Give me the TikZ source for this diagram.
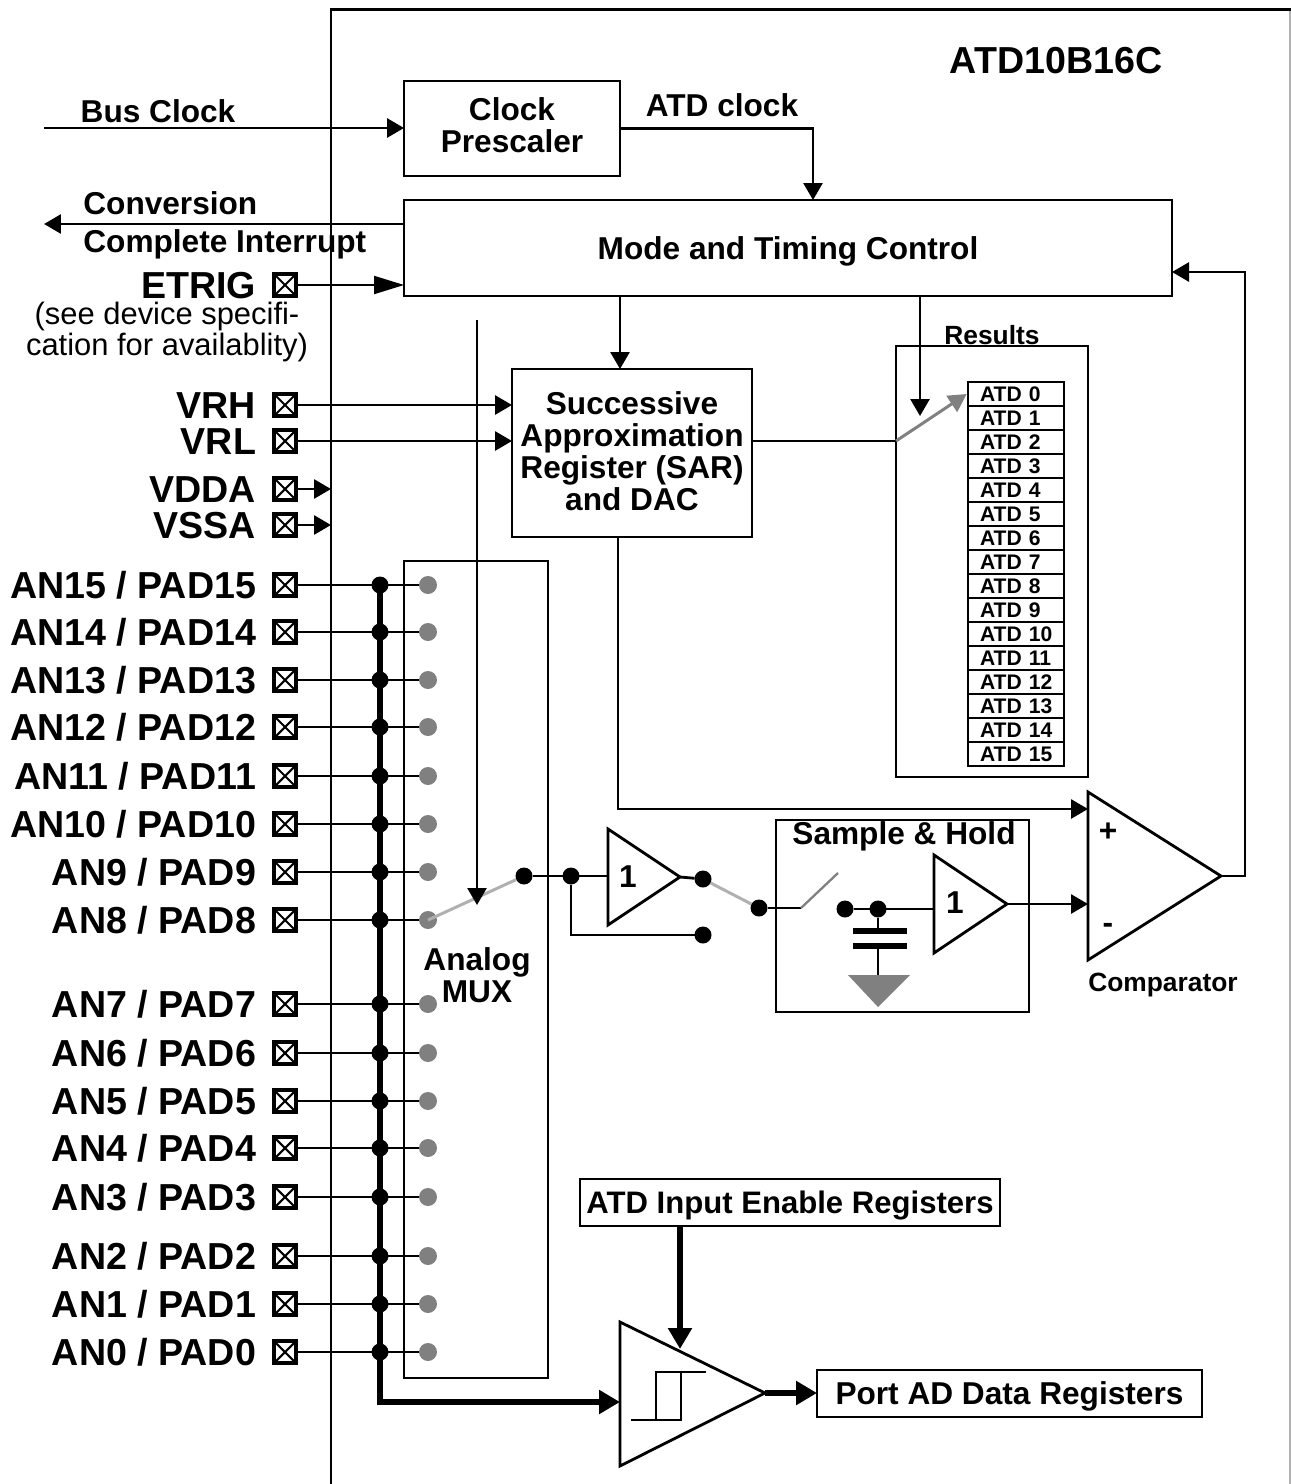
\documentclass[tikz,border=0pt]{standalone}
\usepackage{fontspec}
\setmainfont{Liberation Sans}
\usetikzlibrary{arrows.meta, positioning, calc}
\definecolor{muxGray}{RGB}{128,128,128}
\definecolor{switchGray}{RGB}{176,176,176}
\tikzset{
    blockbox/.style={
        rectangle,
        draw,
        line width=1.6pt,
        align=center,
        inner sep=0pt,
        outer sep=0pt,
        font=\fontsize{18}{18.2}\selectfont\bfseries
    },
    capline/.style={text height=13pt, text depth=0pt},
    textlabel/.style={inner sep=0pt, align=left, font=\fontsize{18}{18.2}\selectfont\bfseries},
    smalllabel/.style={inner sep=0pt, text height=10.8pt, text depth=0pt, font=\fontsize{15}{15}\selectfont\bfseries},
    pinlabel/.style={inner sep=0pt, outer sep=0pt, text height=15.3pt, text depth=0pt, font=\fontsize{21.4}{21.4}\selectfont\bfseries},
    regbox/.style={
        rectangle,
        draw,
        line width=1.5pt,
        align=left,
        inner xsep=0.18cm,
        inner ysep=0pt,
        text width=1.56cm,
        minimum height=0.48cm,
        text height=8.6pt,
        text depth=0pt,
        font=\fontsize{12}{12}\selectfont\bfseries
    },
    pinbox/.style={
        rectangle,
        draw,
        line width=1.8pt,
        inner sep=0pt,
        outer sep=0pt,
        minimum size=0.44cm,
        path picture={
            \draw[line width=1.2pt] (path picture bounding box.north west) -- (path picture bounding box.south east);
            \draw[line width=1.2pt] (path picture bounding box.south west) -- (path picture bounding box.north east);
        }
    },
    dotnode/.style={circle, fill=black, inner sep=0pt, outer sep=0pt, minimum size=0.34cm},
    muxdot/.style={circle, fill=muxGray, inner sep=0pt, outer sep=0pt, minimum size=0.36cm},
    wire/.style={line width=1.6pt},
    thinwire/.style={line width=1.2pt},
    graywire/.style={line width=1.7pt, draw=switchGray},
    flowarrow/.style={-{Triangle[length=0.34cm, width=0.38cm]}, line width=1.6pt},
    longarrow/.style={-{Triangle[length=0.6cm, width=0.36cm]}, line width=1.1pt},
    heavyarrow/.style={-{Triangle[length=0.42cm, width=0.46cm]}, line width=3.3pt},
    amp/.style={line width=1.6pt}
}
\begin{document}
\begin{tikzpicture}[x=0.02cm, y=-0.02cm]
    \useasboundingbox (0,0) rectangle (1291,1484);
    \coordinate (framebl) at (331,1484);
    \coordinate (frametr) at (1291,9.5);
    \coordinate (framebr) at (1290,1484);
    \draw[line width=1.7pt] (framebl) |- (frametr);
    \draw[line width=0.6pt, draw=switchGray] (1290,11) -- (framebr);

    \node[inner sep=0pt, font=\fontsize{21.4}{21.4}\selectfont\bfseries] (title) at (1056,61) {ATD10B16C};

    % control blocks
    \node[blockbox, minimum width=4.32cm, minimum height=1.9cm] (prescaler) at (512,128.5) {};
    \node[textlabel, align=center] (prescalerlabel) at (512,125) {Clock\\Prescaler};
    \node[blockbox, capline, minimum width=15.36cm, minimum height=1.92cm] (mode) at (788,248) {Mode and Timing Control};
    \node[blockbox, minimum width=4.8cm, minimum height=3.36cm] (sar) at (632,453) {};
    \node[textlabel, align=center] (sarlabel) at (632,451) {Successive\\Approximation\\Register (SAR)\\and DAC};
    \node[blockbox, minimum width=3.84cm, minimum height=8.62cm] (results) at (992,561.5) {};
    \node[smalllabel] (resultslabel) at (992,335) {Results};
    \node[blockbox, minimum width=2.88cm, minimum height=16.34cm] (mux) at (476,969.5) {};
    \node[textlabel, align=center] (muxlabel) at (477,975) {Analog\\MUX};
    \node[blockbox, minimum width=5.06cm, minimum height=3.84cm] (sah) at (902.5,916) {};
    \node[textlabel, capline] (sahlabel) at (904,833) {Sample \& Hold};
    \node[blockbox, capline, minimum width=8.4cm, minimum height=0.94cm, font=\fontsize{17.7}{18}\selectfont\bfseries] (enable) at (790,1202.5) {ATD Input Enable Registers};
    \node[blockbox, capline, minimum width=7.7cm, minimum height=0.94cm] (port) at (1009.5,1393.5) {Port AD Data Registers};

    % result registers
    \foreach \n in {0,...,15} {
        \node[regbox] (reg\n) at (1016,394+24*\n) {\hspace*{0.06cm}ATD \n};
    }

    % clock and interrupt
    \coordinate (busclk) at (44,128);
    \coordinate (irqend) at (44,224);
    \node[textlabel] (busclklabel) at (158,111) {Bus Clock};
    \node[textlabel] (atdclklabel) at (722,105) {ATD clock};
    \node[textlabel, right] (convlabel) at (83,203) {Conversion};
    \node[textlabel, capline, right] (irqlabel) at (83,241) {Complete Interrupt};
    \coordinate (modeclk) at (813,200);
    \draw[flowarrow] (busclk) -- (prescaler.west |- busclk);
    \draw[flowarrow] (prescaler.east) -| (modeclk);
    \draw[flowarrow] (mode.west |- irqend) -- (irqend);

    % supply and trigger pins
    \node[pinbox] (etrig) at (285,285) {};
    \node[pinbox] (vrh) at (285,405) {};
    \node[pinbox] (vrl) at (285,441) {};
    \node[pinbox] (vdda) at (285,489) {};
    \node[pinbox] (vssa) at (285,525) {};
    \node[pinlabel, left=0.36cm of etrig] (etriglabel) {ETRIG};
    \node[pinlabel, left=0.36cm of vrh] (vrhlabel) {VRH};
    \node[pinlabel, left=0.36cm of vrl] (vrllabel) {VRL};
    \node[pinlabel, left=0.36cm of vdda] (vddalabel) {VDDA};
    \node[pinlabel, left=0.36cm of vssa] (vssalabel) {VSSA};
    \node[inner sep=0pt, align=center, font=\fontsize{17.6}{17.6}\selectfont] (etrignote) at (167,332) {(see device specif{}i-\\cation for availablity)};
    \draw[longarrow] (etrig.east) -- (mode.west |- etrig);
    \draw[flowarrow] (vrh.east) -- (sar.west |- vrh);
    \draw[flowarrow] (vrl.east) -- (sar.west |- vrl);
    \coordinate (vddaend) at (331,489);
    \coordinate (vssaend) at (331,525);
    \draw[flowarrow] (vdda.east) -- (vddaend);
    \draw[flowarrow] (vssa.east) -- (vssaend);

    % analog channels
    \coordinate (schmittin) at (620,1402);
    \foreach \n/\ypos in {15/585,14/632,13/680,12/727,11/776,10/824,9/872,8/920,7/1004,6/1053,5/1101,4/1148,3/1197,2/1256,1/1304,0/1352} {
        \node[pinbox] (pin\n) at (285,\ypos) {};
        \node[pinlabel, left=0.36cm of pin\n] (label\n) {AN\n\ /\ PAD\n};
        \node[dotnode] (bus\n) at (380,\ypos) {};
        \coordinate (muxin\n) at (428,\ypos);
        \draw[wire] (pin\n.east) -- (muxin\n);
        \node[muxdot] (mux\n) at (muxin\n) {};
    }
    \draw[heavyarrow] (bus15.center) |- (schmittin);

    % signal path
    \node[dotnode] (muxout) at (524,876) {};
    \node[dotnode] (ampin) at (571,876) {};
    \node[dotnode] (ampout) at (703,879) {};
    \node[dotnode] (bypass) at (703,935) {};
    \node[dotnode] (sahin) at (759,908) {};
    \node[dotnode] (capleft) at (845,909) {};
    \node[dotnode] (captop) at (878,909) {};
    \coordinate (amponein) at (608,876);
    \coordinate (amponeout) at (680,877);
    \coordinate (amptwoin) at (934,909);
    \coordinate (amptwoout) at (1007,904);
    \coordinate (switchpivot) at (801,908);
    \coordinate (switchend) at (838,873);
    \draw[amp] (608,829) -- (608,925) -- (amponeout) -- cycle;
    \draw[amp] (934,855) -- (934,953) -- (amptwoout) -- cycle;
    \node[textlabel] (amponelabel) at (628,877) {1};
    \node[textlabel] (amptwolabel) at (955,903) {1};
    \draw[graywire] (mux8.center) -- (muxout);
    \draw[wire] (muxout) -- (amponein);
    \draw[wire] (amponeout) -- (ampout);
    \draw[wire] (ampin) |- (bypass);
    \draw[graywire] (ampout) -- (sahin);
    \draw[wire] (sahin) -- (switchpivot);
    \draw[line width=1.3pt, draw=muxGray] (switchpivot) -- (switchend);
    \draw[wire] (capleft) -- (amptwoin);
    \coordinate (ctrltop) at (477,320);
    \coordinate (ctrltip) at (477,905);
    \draw[flowarrow, line width=1.4pt] (ctrltop) -- (ctrltip);

    % hold capacitor
    \coordinate (plateone) at (878,931);
    \coordinate (platetwo) at (878,946);
    \coordinate (gndtop) at (878,975);
    \draw[wire] (captop) -- (plateone);
    \draw[line width=3pt] (853,931) -- (907,931);
    \draw[line width=3pt] (853,946) -- (907,946);
    \draw[wire] (platetwo) -- (gndtop);
    \fill[muxGray] (848,975) -- (910,975) -- (878,1007) -- cycle;

    % comparator
    \coordinate (compplus) at (1088,809);
    \coordinate (compminus) at (1088,904);
    \coordinate (compout) at (1221,876);
    \coordinate (comptop) at (1245,876);
    \coordinate (modefeedback) at (1172,272);
    \draw[amp] (1088,792) -- (1088,960) -- (compout) -- cycle;
    \node[textlabel] (pluslabel) at (1108,832) {+};
    \node[textlabel] (minuslabel) at (1108,928) {-};
    \node[smalllabel] (complabel) at (1163,982) {Comparator};
    \draw[flowarrow] (618,537) |- (compplus);
    \draw[flowarrow] (amptwoout) -- (compminus);
    \draw[flowarrow] (compout) -- (comptop) |- (modefeedback);

    % control to sar and results
    \coordinate (sartop) at (620,369);
    \coordinate (resultstip) at (920,416);
    \coordinate (resultsin) at (896,441);
    \draw[flowarrow] (sartop |- mode.south) -- (sartop);
    \draw[flowarrow] (resultstip |- mode.south) -- (resultstip);
    \draw[wire] (sar.east |- resultsin) -- (resultsin);
    \draw[-{Triangle[length=0.36cm, width=0.38cm]}, line width=1.7pt, draw=muxGray, fill=muxGray] (resultsin) -- (reg0.west);

    % digital input path
    \coordinate (schmittout) at (765,1393);
    \coordinate (schmitttip) at (680,1349);
    \draw[amp] (620,1322) -- (620,1466) -- (schmittout) -- cycle;
    \draw[thinwire] (631,1420) -- (681,1420) -- (681,1372);
    \draw[thinwire] (656,1420) -- (656,1372) -- (706,1372);
    \draw[heavyarrow] (schmitttip |- enable.south) -- (schmitttip);
    \draw[heavyarrow] (schmittout) -- (port.west |- schmittout);
\end{tikzpicture}
\end{document}
